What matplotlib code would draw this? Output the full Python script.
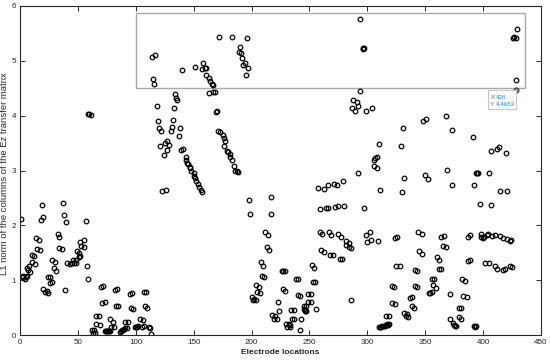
import matplotlib
matplotlib.use("Agg")
import matplotlib.pyplot as plt
from matplotlib.patches import Rectangle

plt.rcParams['font.family'] = ['Liberation Sans', 'DejaVu Sans']

# ---- data: electrode index vs L1 norm, grouped by region ----
xa = [1,2,3,4,5,6,6,8,7,9,10,12,10,13,14,16,15,17,19,20,18,20,22,23,24,24,26,26,28,28,30,29,31,
      33,34,34,36,37,38,40,39,41,43,45,46,47,48,48,49,51,52,51,52,55,53,55,57,58,59,59,60,61,
      70,72,71,73,66,68,66,69,62,64,63,65,73,74,75,76,77,78,78,80,79,81,82,84,83,85,
      86,87,88,89,90,91,92,91,93,95,97,96,98,99,100,101,102,104,106,105,107,107,109,108,110,111,112,113]
ya = [2.12,1.05,1.07,1.03,1.05,1.07,1.23,1.25,1.19,1.15,1.45,1.44,1.34,1.29,1.76,1.73,1.56,1.55,2.37,2.16,2.10,
      0.84,0.79,0.81,0.77,1.06,1.06,0.94,0.96,1.37,1.34,1.23,1.17,1.84,1.78,1.59,1.57,2.40,2.18,2.06,0.82,
      1.32,1.30,1.31,1.36,1.31,1.36,1.31,1.54,1.49,1.44,1.42,1.70,1.73,1.62,1.60,2.07,1.26,1.02,4.03,4.03,4.02,
      0.88,0.90,0.59,0.61,0.35,0.35,0.20,0.18,0.09,0.09,0.04,0.03,0.07,0.07,0.07,0.07,0.07,0.08,0.29,0.24,0.15,0.14,
      0.82,0.84,0.52,0.53,0.05,0.08,0.10,0.10,0.11,0.12,0.12,0.24,0.23,0.75,0.77,0.49,0.47,0.14,0.15,0.15,0.16,
      0.29,0.28,0.15,0.16,0.79,0.78,0.52,0.50,0.15,0.13,0.01]

xb = [114,117,115,116,134,135,136,118,133,119,120,122,132,131,130,138,137,121,125,127,129,127,124,139,141,
      143,143,144,145,147,147,148,150,150,151,152,154,155,156,157,123,126,
      140,151,157,158,160,161,161,163,164,166,167,163,167,168,169,170,
      171,173,175,176,177,176,179,180,181,181,183,185,186,187,188,
      172,183,196,190,189,191,192,194,193,197,195,198,199]
yb = [5.07,5.10,4.67,4.57,4.39,4.33,4.28,4.17,4.14,3.91,3.78,3.72,3.92,3.80,3.72,3.78,3.63,3.45,3.51,3.53,3.47,3.38,3.28,3.38,3.39,
      3.25,3.19,3.13,3.11,3.07,3.04,2.99,2.95,2.90,2.86,2.80,2.76,2.69,2.65,2.60,2.62,2.65,
      4.84,4.88,4.85,4.96,4.87,4.87,4.74,4.68,4.64,4.58,4.56,4.42,4.44,4.44,4.06,4.09,
      3.72,3.71,3.64,3.59,3.53,3.44,3.36,3.34,3.30,3.24,3.19,3.09,3.00,2.99,2.98,
      5.43,5.43,5.41,5.26,5.16,5.14,5.06,4.96,4.92,4.87,4.74,2.46,2.21]

xc = [217,217,212,214,213,215,208,210,209,211,204,206,205,207,200,202,204,201,223,224,218,220,219,222,
      226,227,229,227,229,234,237,235,237,230,232,231,233,233,243,242,
      238,240,240,242,249,251,249,251,245,247,245,246,246,247,252,254,253,255,256,286,
      257,263,266,271,274,279,259,264,266,272,275,280,297,
      259,261,267,269,275,277,282,284,282,284,286,260,263,268,270,276,278,
      288,291,292,287,289]
yc = [2.51,2.20,1.87,1.82,1.61,1.55,1.34,1.26,1.08,1.05,0.92,0.88,0.78,0.76,0.70,0.66,0.64,0.64,0.61,0.43,0.36,0.34,0.29,0.29,
      1.16,1.17,1.16,0.84,0.81,0.46,0.46,0.29,0.29,0.20,0.20,0.15,0.14,0.18,0.29,0.09,
      1.02,1.02,0.73,0.71,0.74,0.74,0.61,0.61,0.53,0.52,0.47,0.46,0.43,0.44,1.28,1.22,0.97,0.96,0.47,0.63,
      2.68,2.66,2.74,2.76,2.74,2.81,2.29,2.31,2.32,2.33,2.35,2.35,2.31,
      1.87,1.84,1.87,1.82,1.84,1.79,1.72,1.68,1.64,1.61,1.58,1.55,1.51,1.46,1.46,1.38,1.39,
      4.28,4.25,4.18,4.14,4.08]

xd = [294,296,296,297,294,299,304,348,351,331,310,329,307,306,308,306,308,292,332,350,352,
      429,426,427,428,428,428,368,373,391,407,412,414,420,369,394,395,396,405,311,330,
      299,302,300,303,309,310,311,312,313,314,315,316,317,318,319,316,319,321,323,321,324,325,328,324,326,
      332,334,333,335,337,339,339,340,341,343,341,343,345,347,344,347,353,
      373,392,415,421,397,407,364,366,365,368,387,389,
      398,398,400,401,403,404,408,410,415,417,421,423,424,
      387,389,402,405,410,412,417,419,423,425,
      360,362,362,364,356,358,357,359,354,356,371,382,384,383,386,379,381,379,381,371,374,375,377,376,392,393,394]
yd = [5.77,5.23,5.22,5.23,4.45,4.09,4.14,3.91,3.94,3.77,3.49,3.45,3.22,3.19,3.24,3.08,3.05,2.96,2.86,2.91,2.85,
      5.58,5.42,5.43,5.41,4.65,4.4653,4.00,3.73,3.61,3.36,3.39,3.42,3.32,3.01,2.95,2.95,2.95,2.96,2.65,2.60,
      1.82,1.87,1.70,1.73,1.72,0.15,0.15,0.15,0.16,0.16,0.17,0.18,0.20,0.19,0.20,0.35,0.34,0.89,0.87,0.59,0.57,1.25,1.26,1.76,1.78,
      0.40,0.38,0.35,0.32,0.68,0.69,0.52,0.49,1.19,1.16,0.89,0.87,1.53,1.47,1.87,1.84,0.76,
      2.74,2.74,2.63,2.63,2.38,2.37,1.79,1.81,1.62,1.61,1.79,1.82,
      1.84,1.79,1.77,1.79,1.82,1.84,1.81,1.82,1.81,1.77,1.75,1.72,1.73,
      1.35,1.37,1.32,1.32,1.26,1.20,1.19,1.20,1.26,1.24,
      1.42,1.36,1.20,1.20,1.03,1.03,0.91,0.85,0.77,0.79,0.74,1.03,0.99,0.72,0.70,0.49,0.49,0.32,0.30,0.29,0.21,0.18,0.17,0.17,0.17,0.15,0.16]

tip_x, tip_y = 428, 4.4653
zoom_box = (100, 4.51, 436, 5.88)   # x0, y0, x1, y1

xticks = [0, 50, 100, 150, 200, 250, 300, 350, 400, 450]
yticks = [0, 1, 2, 3, 4, 5, 6]

fig = plt.figure(figsize=(5.5, 3.61), dpi=100)
ax = fig.add_axes([20/550, 26/361, 521/550, 329/361])

for xs, ys in [(xa, ya), (xb, yb), (xc, yc), (xd, yd)]:
    ax.plot(xs, ys, linestyle='none', marker='o', markersize=3.3,
            markerfacecolor='none', markeredgecolor='black', markeredgewidth=0.9)

ax.plot([tip_x], [tip_y], linestyle='none', marker='o', markersize=3.3,
        markerfacecolor='#808080', markeredgecolor='#606060', markeredgewidth=0.6)

x0, y0, x1, y1 = zoom_box
ax.add_patch(Rectangle((x0, y0), x1 - x0, y1 - y0, fill=False,
                       edgecolor='#a8a8a8', linewidth=1.0, zorder=1))

# data tip
ax.add_patch(Rectangle((404, 4.12), 24.5, 0.35, facecolor='white',
                       edgecolor='#c8c8c8', linewidth=0.8, zorder=5))
ax.text(406.3, 4.34, 'X', fontsize=4.5, color='#707070', va='center', ha='left', zorder=6)
ax.text(411, 4.34, '428', fontsize=4.5, color='#1a8cff', va='center', ha='left', zorder=6)
ax.text(406.3, 4.21, 'Y', fontsize=4.5, color='#707070', va='center', ha='left', zorder=6)
ax.text(411, 4.21, '4.4653', fontsize=4.5, color='#1a8cff', va='center', ha='left', zorder=6)

ax.set_xlim(0, 450)
ax.set_ylim(0, 6)
ax.set_xticks(xticks)
ax.set_yticks(yticks)
ax.tick_params(direction='in', top=True, right=True, length=3.5, width=0.7,
               labelsize=5.8, colors='#262626', pad=3)
for s in ax.spines.values():
    s.set_color('#262626')
    s.set_linewidth(0.8)

xl = ax.set_xlabel('Electrode locations', fontsize=6.3, fontweight='bold', color='#262626')
yl = ax.set_ylabel('L1 norm of the columns of the Ez transfer matrix', fontsize=6.0,
                   color='#262626')
ax.xaxis.set_label_coords(0.5, -14/329)
ax.yaxis.set_label_coords(-10.5/521, 0.49)

# fit label sizes to the measured extents in the reference
fig.canvas.draw()
r = fig.canvas.get_renderer()
h = yl.get_window_extent(r).height
yl.set_fontsize(6.0 * 205.0 / h)
w = xl.get_window_extent(r).width
xl.set_fontsize(6.3 * 78.0 / w)

fig.savefig('out.png', dpi=100)
